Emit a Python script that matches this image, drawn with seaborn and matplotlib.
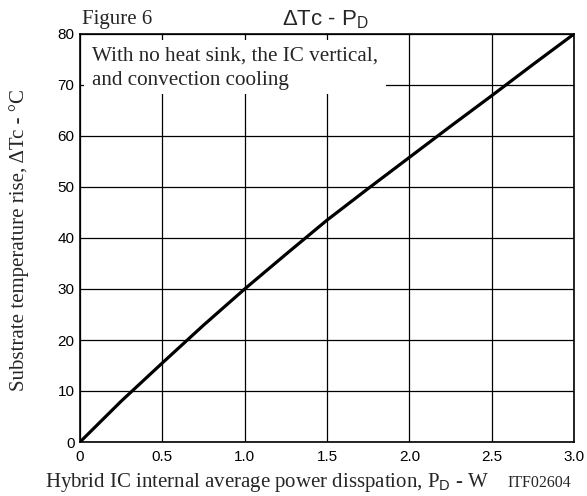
import matplotlib
matplotlib.use("Agg")
import matplotlib.pyplot as plt
from matplotlib.patches import Rectangle
import seaborn as sns
import pandas as pd

# Data
power_w = [0.0, 0.25, 0.5, 0.75, 1.0, 1.25, 1.5, 1.75, 2.0, 2.25, 2.5, 2.75, 3.0]
temp_rise = [0.0, 8.0, 15.5, 22.9, 30.0, 36.8, 43.5, 49.7, 55.8, 61.9, 67.9, 74.0, 80.0]
x_ticks = [0, 0.5, 1.0, 1.5, 2.0, 2.5, 3.0]
x_tick_labels = ["0", "0.5", "1.0", "1.5", "2.0", "2.5", "3.0"]
y_ticks = [0, 10, 20, 30, 40, 50, 60, 70, 80]
y_tick_labels = [str(v) for v in y_ticks]

sns.set_style("white")
plt.rcParams["font.family"] = ["Liberation Sans", "DejaVu Sans"]
plt.rcParams["mathtext.fontset"] = "custom"
plt.rcParams["mathtext.rm"] = "Liberation Serif"
plt.rcParams["mathtext.sf"] = "Liberation Sans"
plt.rcParams["mathtext.it"] = "Liberation Serif:italic"

df = pd.DataFrame({"P": power_w, "T": temp_rise})

W, H = 587, 496
fig = plt.figure(figsize=(W / 100, H / 100), dpi=100)
ax = fig.add_axes([80 / W, 54 / H, 494 / W, 408 / H])

sns.lineplot(data=df, x="P", y="T", ax=ax, color="black", linewidth=2.3, zorder=4)

ax.set_xlim(0, 3.0)
ax.set_ylim(0, 80)
ax.set_xticks(x_ticks)
ax.set_xticklabels(x_tick_labels)
ax.set_yticks(y_ticks)
ax.set_yticklabels(y_tick_labels)
ax.tick_params(axis="x", length=0, labelsize=11, colors="black", pad=6)
ax.tick_params(axis="y", length=0, labelsize=11, colors="black", pad=4)
ax.grid(True, color="black", linewidth=0.9)
ax.set_axisbelow(True)
for s in ax.spines.values():
    s.set_color("black")
    s.set_linewidth(1.2)
ax.set_xlabel("")
ax.set_ylabel("")

# White area hiding the grid behind the note
def px_to_ax(xp, yp):
    return ((xp - 80) / 494, (442 - yp) / 408)

x0, y0 = px_to_ax(84, 94)
x1, y1 = px_to_ax(386, 40)
ax.add_patch(Rectangle((x0, y0), x1 - x0, y1 - y0, transform=ax.transAxes,
                       facecolor="white", edgecolor="none", zorder=2))

tx, ty1 = px_to_ax(92, 61)
_, ty2 = px_to_ax(92, 85)
ax.text(tx, ty1, "With no heat sink, the IC vertical,", transform=ax.transAxes,
        ha="left", va="baseline", family="Liberation Serif", fontsize=15.2, zorder=3)
ax.text(tx, ty2, "and convection cooling", transform=ax.transAxes,
        ha="left", va="baseline", family="Liberation Serif", fontsize=15.2, zorder=3)

# Titles
fig.text(82 / W, 1 - 24 / H, "Figure 6", family="Liberation Serif",
         fontsize=15, ha="left", va="baseline")
fig.text(325 / W, 1 - 25 / H, r"ΔTc - P$_{\mathsf{D}}$", family="Liberation Sans",
         fontsize=16, ha="center", va="baseline")

# Axis labels
fig.text(45 / W, 1 - 487 / H,
         r"Hybrid IC internal average power disspation, P$_{\mathsf{D}}$ - W",
         family="Liberation Serif", fontsize=15, ha="left", va="baseline")
fig.text(539 / W, 1 - 487 / H, "ITF02604", family="Liberation Serif",
         fontsize=11.5, ha="center", va="baseline")
fig.text(19 / W, 1 - 240 / H, "Substrate temperature rise, ΔTc - °C",
         family="Liberation Serif", fontsize=15, ha="center", va="center",
         rotation=90)

fig.savefig("out.png", dpi=100, facecolor="white")
